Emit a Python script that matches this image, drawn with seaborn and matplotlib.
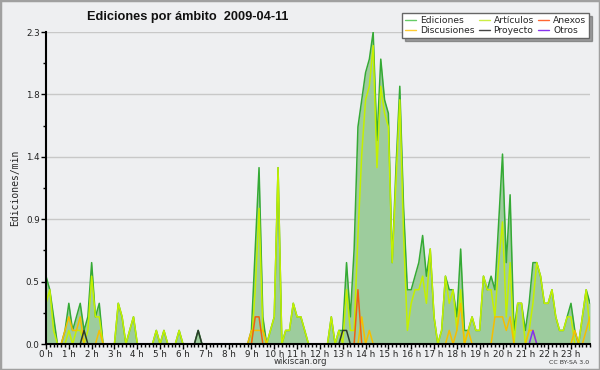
import numpy as np
import pandas as pd
import matplotlib
matplotlib.use("Agg")
import matplotlib.pyplot as plt
import seaborn as sns
from matplotlib.lines import Line2D
from matplotlib.patches import Rectangle

# ---- data: edits per minute, 10-minute bins (144 per day) ----
hours = list(range(24))
hour_labels = [f"{h} h" for h in hours]
y_max = 2.3

ediciones = [
    0.5, 0.4, 0.2, 0, 0, 0.1, 0.3, 0.1, 0.2, 0.3, 0.1, 0.2,
    0.6, 0.2, 0.3, 0, 0, 0, 0, 0.3, 0.2, 0, 0.1, 0.2,
    0, 0, 0, 0, 0, 0.1, 0, 0.1, 0, 0, 0, 0.1,
    0, 0, 0, 0, 0.1, 0, 0, 0, 0, 0, 0, 0,
    0, 0, 0, 0, 0, 0, 0.1, 0.7, 1.3, 0.2, 0, 0.1,
    0.2, 1.3, 0, 0.1, 0.1, 0.3, 0.2, 0.2, 0.1, 0, 0, 0,
    0, 0, 0, 0.2, 0, 0.1, 0.1, 0.6, 0.2, 0.7, 1.6, 1.8,
    2.0, 2.1, 2.3, 1.5, 2.1, 1.8, 1.7, 0.6, 1.3, 1.9, 1.0, 0.4,
    0.4, 0.5, 0.6, 0.8, 0.5, 0.7, 0.2, 0, 0.1, 0.5, 0.4, 0.4,
    0.2, 0.7, 0.1, 0.1, 0.2, 0.1, 0.1, 0.5, 0.4, 0.5, 0.4, 0.9,
    1.4, 0.6, 1.1, 0.1, 0.3, 0.3, 0.1, 0.3, 0.6, 0.6, 0.5, 0.3,
    0.3, 0.4, 0.2, 0.1, 0.1, 0.2, 0.3, 0.1, 0, 0.2, 0.4, 0.3,
]
articulos = [
    0.3, 0.4, 0.1, 0, 0, 0, 0.1, 0, 0.1, 0.1, 0, 0.1,
    0.5, 0.2, 0.2, 0, 0, 0, 0, 0.3, 0.2, 0, 0.1, 0.2,
    0, 0, 0, 0, 0, 0.1, 0, 0.1, 0, 0, 0, 0.1,
    0, 0, 0, 0, 0, 0, 0, 0, 0, 0, 0, 0,
    0, 0, 0, 0, 0, 0, 0, 0.4, 1.0, 0.1, 0, 0.1,
    0.2, 1.3, 0, 0.1, 0.1, 0.3, 0.2, 0.2, 0.1, 0, 0, 0,
    0, 0, 0, 0.2, 0, 0.1, 0, 0.4, 0.1, 0.1, 0.8, 1.4,
    1.8, 1.9, 2.2, 1.3, 1.9, 1.7, 1.6, 0.6, 1.2, 1.8, 0.8, 0.1,
    0.3, 0.4, 0.4, 0.5, 0.3, 0.7, 0.2, 0, 0.1, 0.5, 0.3, 0.4,
    0.1, 0.4, 0, 0.1, 0.2, 0.1, 0.1, 0.5, 0.4, 0.4, 0.2, 0.6,
    0.9, 0.2, 0.6, 0, 0.3, 0.3, 0, 0.1, 0.3, 0.6, 0.5, 0.3,
    0.3, 0.4, 0.2, 0.1, 0.1, 0.2, 0.2, 0, 0, 0.2, 0.4, 0.1,
]
discusiones = [
    0, 0, 0, 0, 0, 0.1, 0.2, 0.1, 0.1, 0.2, 0, 0,
    0, 0, 0.1, 0, 0, 0, 0, 0, 0, 0, 0, 0,
    0, 0, 0, 0, 0, 0, 0, 0, 0, 0, 0, 0,
    0, 0, 0, 0, 0, 0, 0, 0, 0, 0, 0, 0,
    0, 0, 0, 0, 0, 0, 0.1, 0.1, 0.1, 0.1, 0, 0,
    0, 0, 0, 0, 0, 0, 0, 0, 0, 0, 0, 0,
    0, 0, 0, 0, 0, 0, 0, 0, 0, 0, 0, 0.2,
    0, 0.1, 0, 0, 0, 0, 0, 0, 0, 0, 0, 0,
    0, 0, 0, 0, 0, 0, 0, 0, 0, 0, 0.1, 0,
    0.1, 0.3, 0, 0.1, 0, 0, 0, 0, 0, 0, 0.2, 0.2,
    0.2, 0.1, 0.2, 0, 0, 0, 0, 0.1, 0.1, 0, 0, 0,
    0, 0, 0, 0, 0, 0, 0, 0.1, 0, 0, 0.1, 0.2,
]
anexos = [0.0] * 144
for i, v in [(55, 0.2), (56, 0.2), (82, 0.4)]:
    anexos[i] = v
proyecto = [0.0] * 144
for i, v in [(10, 0.1), (40, 0.1), (78, 0.1), (79, 0.1)]:
    proyecto[i] = v
otros = [0.0] * 144
for i, v in [(128, 0.1)]:
    otros[i] = v

t = np.arange(144) / 6.0

# ---- style ----
BG = "#eeeff1"
sns.set_style("ticks")
plt.rcParams["font.family"] = ["DejaVu Sans"]

fig = plt.figure(figsize=(6.0, 3.7), dpi=100, facecolor=BG)
fig.add_artist(Rectangle((0, 0), 1, 1, transform=fig.transFigure,
                         fill=False, edgecolor="#a0a0a0", linewidth=2.5))
ax = fig.add_axes([46 / 600, 26 / 370, 544 / 600, 312 / 370])
ax.set_facecolor(BG)

ax.fill_between(t, ediciones, 0, color="#9dcc9d", linewidth=0, zorder=1)
series = [
    (ediciones, "#35aa35", "Ediciones"),
    (articulos, "#c4f000", "Artículos"),
    (discusiones, "#f5bf00", "Discusiones"),
    (anexos, "#f06010", "Anexos"),
    (proyecto, "#2c3a2c", "Proyecto"),
    (otros, "#8030f0", "Otros"),
]
for vals, col, lab in series:
    sns.lineplot(x=t, y=vals, color=col, linewidth=1.1, ax=ax, legend=False, zorder=2)

ax.set_xlim(0, 143 / 6)
ax.set_ylim(0, y_max)
ax.set_xticks(hours)
ax.set_xticklabels(hour_labels)
ax.set_xticks(np.arange(0, 143 / 6 + 0.01, 1 / 6), minor=True)
yt = np.linspace(0, y_max, 6)
ax.set_yticks(yt)
ax.set_yticklabels([f"{v:.1f}" for v in yt])
ax.set_yticks(np.linspace(0, y_max, 11), minor=True)
ax.yaxis.grid(True, which="major", color="#c8c8c8", linewidth=1)
ax.set_axisbelow(True)
for s in ["top", "right"]:
    ax.spines[s].set_visible(False)
for s in ["left", "bottom"]:
    ax.spines[s].set_color("black")
    ax.spines[s].set_linewidth(1.5)
    ax.spines[s].set_zorder(3)
ax.tick_params(axis="both", which="major", direction="out", length=3.5, width=1,
               labelsize=6.3, color="black", labelcolor="#222222", pad=1)
ax.tick_params(axis="x", which="major", pad=0.5)
ax.tick_params(axis="both", which="minor", direction="out", length=2.5, width=1, color="black")
ax.set_xlabel("")
ax.set_ylabel("Ediciones/min", family="DejaVu Sans Mono", fontsize=7, labelpad=4)

fig.text(0.312, 0.955, "Ediciones por ámbito  2009-04-11", ha="center", va="center",
         fontsize=9.2, fontweight="bold", color="#111111", family="Liberation Sans")
fig.text(0.5, 0.022, "wikiscan.org", ha="center", va="center", fontsize=6.2, color="#333333")
fig.text(0.982, 0.02, "CC BY-SA 3.0", ha="right", va="center", fontsize=4.5, color="#333333")

order = ["Ediciones", "Discusiones", "Artículos", "Proyecto", "Anexos", "Otros"]
leg_cols = {"Ediciones": "#66cc66", "Artículos": "#ccee44", "Anexos": "#ff6633",
            "Discusiones": "#ffcc33", "Proyecto": "#444444", "Otros": "#8833ee"}
hs = [Line2D([0], [0], color=leg_cols[k], linewidth=1) for k in order]
leg = fig.legend(hs, order, ncol=3, loc="upper right", bbox_to_anchor=(0.99, 0.977),
                 fontsize=6.6, frameon=True, fancybox=False, shadow=True,
                 handlelength=1.2, handletextpad=0.4, columnspacing=0.5,
                 labelspacing=0.1, borderpad=0.35)
leg.get_frame().set_edgecolor("#666666")
leg.get_frame().set_linewidth(1)

fig.savefig("out.png", dpi=100, facecolor=BG)
